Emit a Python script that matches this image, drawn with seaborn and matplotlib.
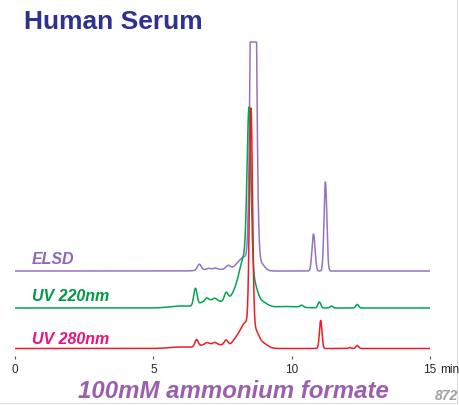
import numpy as np
import pandas as pd
import matplotlib
matplotlib.use("Agg")
import matplotlib.pyplot as plt
import seaborn as sns

# peak tables: retention time (min), height, width (sigma, min)
elsd_rt = [6.66, 7.2, 6.99, 7.23, 7.70, 8.30, 8.615, 8.85, 10.79, 11.22]
elsd_h = [6, 2, 1, 1, 4, 14, 600, 8, 37, 89]
elsd_w = [0.07, 0.4, 0.06, 0.06, 0.08, 0.25, 0.083, 0.15, 0.055, 0.05]

uv220_rt = [6.0, 6.52, 6.9, 7.35, 6.93, 7.22, 7.63, 7.9, 8.3, 8.46, 8.65, 8.9, 9.8,
            10.36, 11.00, 11.44, 12.37]
uv220_h = [2, 17, 6, 6, 2.5, 2, 9, 10, 50, 160, 14, 6, 1.5,
           2, 6, 2, 3.5]
uv220_w = [0.4, 0.06, 0.25, 0.25, 0.06, 0.06, 0.07, 0.18, 0.2, 0.07, 0.12, 0.2, 0.5,
           0.06, 0.05, 0.05, 0.05]

uv280_rt = [6.0, 6.56, 6.9, 7.35, 6.93, 7.22, 7.63, 7.95, 8.35, 8.53, 8.7, 8.95,
            11.05, 12.1, 12.37]
uv280_h = [1.5, 7, 3.5, 3.5, 1.5, 1.5, 6, 5, 26, 218, 10, 5,
           28, 1, 3]
uv280_w = [0.4, 0.06, 0.25, 0.25, 0.06, 0.06, 0.07, 0.15, 0.22, 0.055, 0.12, 0.18,
           0.045, 0.05, 0.05]

elsd_base = 85
uv220_base = 48
uv280_base = 7.5
elsd_clip = 229  # detector saturation, flat top

traces = ["ELSD", "UV 220nm", "UV 280nm"]
colors = {"ELSD": "#9673c0", "UV 220nm": "#00a651", "UV 280nm": "#ee1c25"}
label_colors = {"ELSD": "#8d66b8", "UV 220nm": "#009a44", "UV 280nm": "#e6137d"}

t = np.linspace(0, 15, 3001)


def trace(rt, h, w):
    y = np.zeros_like(t)
    for r, a, s in zip(rt, h, w):
        y += a * np.exp(-0.5 * ((t - r) / s) ** 2)
    return y


elsd = np.minimum(trace(elsd_rt, elsd_h, elsd_w), elsd_clip) + elsd_base
uv220 = trace(uv220_rt, uv220_h, uv220_w) + uv220_base
uv280 = trace(uv280_rt, uv280_h, uv280_w) + uv280_base

df = pd.concat([
    pd.DataFrame({"time": t, "signal": elsd, "trace": "ELSD"}),
    pd.DataFrame({"time": t, "signal": uv220, "trace": "UV 220nm"}),
    pd.DataFrame({"time": t, "signal": uv280, "trace": "UV 280nm"}),
])

sns.set_style("white")
plt.rcParams['font.family'] = ['Liberation Sans', 'DejaVu Sans']

fig = plt.figure(figsize=(4.59, 4.05), dpi=100)
ax = fig.add_axes([15 / 459, 1 - 356 / 405, 415 / 459, 316 / 405])
sns.lineplot(data=df, x="time", y="signal", hue="trace", palette=colors,
             linewidth=1.1, legend=False, ax=ax, sort=False, estimator=None)

ax.set_xlim(0, 15)
ax.set_ylim(0, 316)
for s in ax.spines.values():
    s.set_visible(False)
ax.set_yticks([])
ax.set_xticks([0, 5, 10, 15])
ax.tick_params(axis="x", direction="out", length=2.5, width=0.8, color="#555555",
               labelsize=8.5, pad=3, bottom=True)
ax.set_xlabel("")
ax.set_ylabel("")
ax.patch.set_alpha(0)

# trace labels
for name, base, off in zip(traces, [elsd_base, uv220_base, uv280_base], [7, 7, 5]):
    ax.text(0.6, base + off, name, color=label_colors[name], fontsize=11.5,
            fontweight="bold", style="italic", va="baseline", ha="left")

fig.text(24 / 459, 1 - 22 / 405, "Human Serum", color="#2e3192", fontsize=19,
         fontweight="bold", va="center", ha="left")
fig.text(440 / 459, 1 - 370 / 405, "min", color="#222222", fontsize=8.5,
         va="center", ha="left")
fig.text(233 / 459, 1 - 391 / 405, "100mM ammonium formate", color="#9b5fae",
         fontsize=17.3, fontweight="bold", style="italic", va="center", ha="center")
fig.text(458 / 459, 1 - 396 / 405, "872", color="#a0a0a0", fontsize=10,
         fontweight="bold", style="italic", va="center", ha="right")

# faint frame lines at right and bottom edges
fig.add_artist(plt.Line2D([457 / 459, 457 / 459], [1 - 403 / 405, 1], color="#dddddd", lw=0.8))
fig.add_artist(plt.Line2D([0, 457 / 459], [1 - 403 / 405, 1 - 403 / 405], color="#dddddd", lw=0.8))

fig.savefig("out.png", dpi=100)
